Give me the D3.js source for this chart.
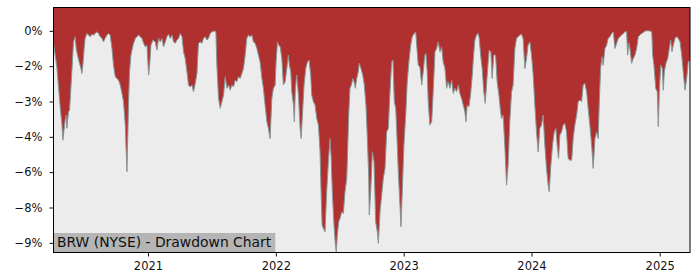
<!DOCTYPE html>
<html>
<head>
<meta charset="utf-8">
<script src="https://cdn.jsdelivr.net/npm/d3@7"></script>
<style>
  html, body { margin: 0; padding: 0; background: #fff; }
  svg { display: block; font-family: "DejaVu Sans", sans-serif; }
</style>
</head>
<body>
<svg id="chart" width="700" height="280"></svg>
<script>
// dates as decimal years, drawdown in percent
const years = [
  2020.263, 2020.289, 2020.302, 2020.315, 2020.328, 2020.336, 2020.354, 2020.362, 2020.367, 2020.380,
  2020.388, 2020.406, 2020.419, 2020.432, 2020.440, 2020.450, 2020.466, 2020.477, 2020.484, 2020.492,
  2020.502, 2020.510, 2020.523, 2020.536, 2020.549, 2020.563, 2020.575, 2020.588, 2020.602, 2020.614,
  2020.627, 2020.641, 2020.653, 2020.666, 2020.680, 2020.692, 2020.705, 2020.719, 2020.731, 2020.745,
  2020.758, 2020.770, 2020.784, 2020.797, 2020.809, 2020.823, 2020.830, 2020.836, 2020.848, 2020.856,
  2020.867, 2020.883, 2020.901, 2020.914, 2020.927, 2020.940, 2020.953, 2020.966, 2020.979, 2020.992,
  2021.005, 2021.013, 2021.023, 2021.039, 2021.057, 2021.070, 2021.083, 2021.096, 2021.109, 2021.122,
  2021.135, 2021.148, 2021.161, 2021.174, 2021.188, 2021.200, 2021.213, 2021.227, 2021.239, 2021.252,
  2021.266, 2021.278, 2021.291, 2021.305, 2021.317, 2021.330, 2021.344, 2021.356, 2021.370, 2021.383,
  2021.395, 2021.409, 2021.422, 2021.434, 2021.448, 2021.461, 2021.473, 2021.487, 2021.500, 2021.520,
  2021.531, 2021.539, 2021.552, 2021.565, 2021.578, 2021.591, 2021.604, 2021.617, 2021.630, 2021.643,
  2021.656, 2021.669, 2021.682, 2021.695, 2021.708, 2021.721, 2021.734, 2021.747, 2021.760, 2021.773,
  2021.786, 2021.799, 2021.813, 2021.825, 2021.838, 2021.852, 2021.864, 2021.877, 2021.891, 2021.903,
  2021.916, 2021.930, 2021.942, 2021.955, 2021.969, 2021.981, 2021.995, 2022.002, 2022.013, 2022.023,
  2022.034, 2022.047, 2022.059, 2022.073, 2022.086, 2022.098, 2022.106, 2022.117, 2022.125, 2022.138,
  2022.145, 2022.153, 2022.164, 2022.177, 2022.190, 2022.198, 2022.208, 2022.221, 2022.234, 2022.247,
  2022.260, 2022.273, 2022.281, 2022.294, 2022.307, 2022.320, 2022.333, 2022.346, 2022.354, 2022.362,
  2022.372, 2022.385, 2022.398, 2022.411, 2022.424, 2022.432, 2022.442, 2022.455, 2022.466, 2022.473,
  2022.481, 2022.492, 2022.502, 2022.516, 2022.528, 2022.541, 2022.555, 2022.563, 2022.570, 2022.580,
  2022.591, 2022.602, 2022.612, 2022.622, 2022.633, 2022.645, 2022.653, 2022.666, 2022.680, 2022.692,
  2022.705, 2022.716, 2022.727, 2022.731, 2022.742, 2022.755, 2022.768, 2022.781, 2022.794, 2022.802,
  2022.815, 2022.828, 2022.841, 2022.854, 2022.867, 2022.880, 2022.893, 2022.906, 2022.916, 2022.927,
  2022.938, 2022.948, 2022.958, 2022.971, 2022.979, 2022.989, 2023.002, 2023.016, 2023.028, 2023.041,
  2023.055, 2023.067, 2023.083, 2023.094, 2023.102, 2023.114, 2023.127, 2023.141, 2023.153, 2023.166,
  2023.174, 2023.184, 2023.192, 2023.205, 2023.219, 2023.231, 2023.245, 2023.258, 2023.270, 2023.284,
  2023.297, 2023.309, 2023.323, 2023.336, 2023.348, 2023.362, 2023.375, 2023.388, 2023.401, 2023.414,
  2023.427, 2023.440, 2023.453, 2023.466, 2023.479, 2023.487, 2023.497, 2023.510, 2023.523, 2023.536,
  2023.547, 2023.557, 2023.570, 2023.583, 2023.591, 2023.602, 2023.614, 2023.627, 2023.638, 2023.648,
  2023.661, 2023.669, 2023.682, 2023.692, 2023.705, 2023.719, 2023.731, 2023.745, 2023.758, 2023.766,
  2023.778, 2023.791, 2023.805, 2023.817, 2023.830, 2023.844, 2023.856, 2023.870, 2023.883, 2023.895,
  2023.909, 2023.922, 2023.934, 2023.948, 2023.961, 2023.973, 2023.987, 2024.000, 2024.013, 2024.026,
  2024.039, 2024.052, 2024.065, 2024.078, 2024.091, 2024.104, 2024.117, 2024.130, 2024.138, 2024.151,
  2024.164, 2024.177, 2024.190, 2024.200, 2024.211, 2024.221, 2024.234, 2024.247, 2024.260, 2024.273,
  2024.286, 2024.299, 2024.313, 2024.325, 2024.338, 2024.352, 2024.364, 2024.377, 2024.391, 2024.403,
  2024.416, 2024.430, 2024.442, 2024.455, 2024.469, 2024.481, 2024.495, 2024.508, 2024.520, 2024.528,
  2024.539, 2024.549, 2024.559, 2024.573, 2024.586, 2024.598, 2024.612, 2024.625, 2024.638, 2024.651,
  2024.664, 2024.677, 2024.690, 2024.703, 2024.716, 2024.729, 2024.742, 2024.750, 2024.760, 2024.768,
  2024.781, 2024.794, 2024.807, 2024.820, 2024.833, 2024.846, 2024.859, 2024.872, 2024.885, 2024.898,
  2024.911, 2024.924, 2024.938, 2024.945, 2024.955, 2024.969, 2024.981, 2024.989, 2024.997, 2025.008,
  2025.020, 2025.028, 2025.036, 2025.049, 2025.063, 2025.075, 2025.086, 2025.096, 2025.106, 2025.120,
  2025.133, 2025.145, 2025.159, 2025.172, 2025.184, 2025.198, 2025.211, 2025.223, 2025.237
]

const drawdown = [
  -0.53, -1.53, -2.38, -3.23, -3.92, -4.64, -3.79, -3.58, -4.14, -3.44,
  -3.37, -1.74, -0.47, -0.25, -0.75, -1.03, -1.38, -1.60, -1.81, -1.46,
  -0.75, -0.32, -0.11, -0.18, -0.25, -0.15, -0.18, -0.11, -0.04, -0.11,
  -0.25, -0.32, -0.47, -0.32, -0.18, -0.11, -0.18, -0.75, -1.46, -1.95,
  -2.02, -2.09, -2.30, -2.66, -3.01, -4.00, -5.14, -5.98, -3.15, -1.74,
  -1.03, -0.61, -0.32, -0.25, -0.18, -0.25, -0.32, -0.53, -0.68, -0.61,
  -1.88, -1.46, -0.61, -0.39, -0.47, -0.82, -0.32, -0.47, -0.32, -0.68,
  -0.47, -0.25, -0.15, -0.32, -0.18, -0.47, -0.53, -0.39, -0.32, -0.11,
  -0.25, -0.89, -1.17, -1.74, -2.30, -2.38, -2.30, -2.59, -2.23, -1.81,
  -0.53, -0.47, -0.53, -0.32, -0.25, -0.39, -0.32, -0.11, -0.04, -0.01,
  -0.04, -1.46, -2.87, -3.29, -3.01, -2.73, -1.95, -2.44, -2.30, -2.52,
  -2.30, -2.38, -2.09, -2.16, -1.95, -2.02, -1.81, -1.60, -1.03, -0.32,
  -0.18, -0.25, -0.18, -0.47, -0.53, -0.75, -1.03, -1.32, -2.02, -2.44,
  -3.15, -3.86, -4.14, -4.57, -2.87, -2.44, -2.30, -1.32, -0.47, -0.61,
  -0.68, -1.17, -2.30, -2.16, -1.60, -1.03, -1.46, -1.74, -2.59, -3.15,
  -3.86, -2.44, -1.88, -2.73, -4.14, -4.57, -3.58, -2.30, -1.60, -1.32,
  -1.24, -1.88, -2.73, -3.01, -3.15, -3.72, -4.00, -5.14, -6.83, -8.25,
  -8.39, -8.53, -6.83, -5.56, -4.57, -5.28, -6.83, -8.25, -9.10, -9.38,
  -8.67, -8.11, -7.96, -7.68, -7.75, -6.83, -6.26, -4.85, -3.58, -2.44,
  -2.30, -2.02, -2.16, -2.44, -2.02, -1.74, -1.38, -1.60, -1.88, -2.30,
  -3.15, -4.57, -6.26, -7.82, -6.83, -5.14, -5.56, -8.11, -8.53, -9.02,
  -7.68, -6.97, -6.26, -5.84, -4.29, -4.14, -2.59, -1.32, -1.24, -3.01,
  -3.29, -4.57, -5.98, -7.40, -8.32, -6.83, -4.85, -3.58, -2.16, -1.32,
  -0.61, -0.25, -0.11, -0.04, -0.61, -1.46, -1.53, -2.30, -1.74, -1.03,
  -0.96, -1.74, -3.01, -4.00, -3.86, -2.59, -0.89, -0.75, -0.47, -0.89,
  -0.68, -1.32, -1.60, -2.44, -2.16, -2.44, -2.09, -2.66, -2.44, -2.59,
  -2.30, -2.66, -2.87, -3.15, -3.44, -3.86, -3.15, -3.23, -2.73, -1.92,
  -1.03, -0.39, -0.18, -0.11, -0.32, -1.03, -1.60, -2.59, -3.08, -2.30,
  -1.32, -0.82, -0.89, -2.02, -1.03, -1.03, -2.16, -2.73, -3.44, -3.72,
  -3.58, -4.85, -6.55, -5.70, -3.86, -2.59, -2.30, -0.75, -0.32, -0.25,
  -0.18, -0.15, -0.32, -1.60, -1.17, -0.61, -0.47, -1.03, -1.88, -3.15,
  -4.29, -5.14, -4.14, -4.00, -3.58, -4.85, -5.84, -6.55, -6.83, -5.70,
  -4.85, -4.29, -4.14, -4.85, -5.42, -4.43, -4.29, -4.00, -3.93, -4.29,
  -5.42, -5.49, -5.49, -4.57, -4.00, -3.58, -3.01, -2.94, -3.01, -2.30,
  -2.23, -2.59, -3.29, -4.00, -4.85, -5.84, -4.57, -4.29, -4.57, -3.15,
  -1.60, -1.10, -1.46, -0.75, -0.61, -0.32, -0.25, -0.11, -0.04, -0.75,
  -0.53, -0.32, -0.25, -0.18, -0.11, -0.04, -0.04, -1.03, -0.53, -0.75,
  -1.38, -1.17, -1.03, -0.75, -0.25, -0.18, -0.11, -0.07, -0.01, 0.00,
  0.00, -0.01, -0.04, -1.03, -1.46, -2.44, -2.59, -4.07, -2.59, -1.46,
  -1.60, -2.52, -1.74, -1.38, -1.17, -0.75, -0.39, -0.89, -0.61, -0.32,
  -0.25, -0.32, -0.47, -1.03, -1.74, -2.52, -2.02, -1.32, -1.24
]

const yLimits = [-9.41, 0.99]
const yTicks = [0, -1.5, -3, -4.5, -6, -7.5, -9]
const yTickLabels = ['0%', '\u22122%', '\u22123%', '\u22124%', '\u22126%', '\u22128%', '\u22129%']
const xTicks = ['2021-01-01', '2022-01-01', '2023-01-01', '2024-01-01', '2025-01-01']
const title = 'BRW (NYSE) - Drawdown Chart'

function yearToDate(y) {
  const yr = Math.floor(y)
  const start = Date.UTC(yr, 0, 1)
  const end = Date.UTC(yr + 1, 0, 1)
  return new Date(start + (y - yr) * (end - start))
}

const data = years.map((y, i) => ({ date: yearToDate(y), value: drawdown[i] }))

const margin = { left: 53.5, right: 10, top: 7.5, bottom: 27.5 }
const width = 700
const height = 280

const svg = d3.select('#chart')

const x = d3
  .scaleUtc()
  .domain(d3.extent(data, (d) => d.date))
  .range([margin.left, width - margin.right])

const y = d3
  .scaleLinear()
  .domain(yLimits)
  .range([height - margin.bottom, margin.top])

// plot background
svg
  .append('rect')
  .attr('x', margin.left)
  .attr('y', margin.top)
  .attr('width', width - margin.left - margin.right)
  .attr('height', height - margin.top - margin.bottom)
  .attr('fill', '#ececec')

// red region from the top of the axes down to the drawdown
const area = d3
  .area()
  .x((d) => x(d.date))
  .y0(y(yLimits[1]))
  .y1((d) => y(d.value))

svg.append('path').datum(data).attr('d', area).attr('fill', '#b03030')

const line = d3
  .line()
  .x((d) => x(d.date))
  .y((d) => y(d.value))

svg
  .append('path')
  .datum(data)
  .attr('d', line)
  .attr('fill', 'none')
  .attr('stroke', '#8a9494')
  .attr('stroke-width', 1)

// title box in the lower left corner
const titleG = svg.append('g')
const titleText = titleG
  .append('text')
  .attr('x', margin.left + 3.5)
  .attr('y', height - margin.bottom - 5.5)
  .attr('font-size', '13.9px')
  .attr('fill', '#111')
  .text(title)
const tb = titleText.node().getBBox()
titleG
  .insert('rect', 'text')
  .attr('x', margin.left)
  .attr('y', tb.y - 1)
  .attr('width', tb.width + 7)
  .attr('height', height - margin.bottom - tb.y + 1)
  .attr('fill', '#b5b5b5')

// axes
const xAxis = d3
  .axisBottom(x)
  .tickValues(xTicks.map((s) => new Date(s + 'T00:00:00Z')))
  .tickFormat(d3.utcFormat('%Y'))
  .tickSize(4)
  .tickPadding(5)

const yAxis = d3
  .axisLeft(y)
  .tickValues(yTicks)
  .tickFormat((d, i) => yTickLabels[i])
  .tickSize(4)
  .tickPadding(7)

const gx = svg
  .append('g')
  .attr('transform', `translate(0,${height - margin.bottom})`)
  .call(xAxis)
const gy = svg.append('g').attr('transform', `translate(${margin.left},0)`).call(yAxis)

for (const g of [gx, gy]) {
  g.select('.domain').remove()
  g.selectAll('text')
    .attr('font-family', '"DejaVu Sans", sans-serif')
    .attr('font-size', '11.5px')
    .attr('fill', '#111')
  g.selectAll('line').attr('stroke', '#111')
}

// frame
svg
  .append('rect')
  .attr('x', margin.left)
  .attr('y', margin.top)
  .attr('width', width - margin.left - margin.right)
  .attr('height', height - margin.top - margin.bottom)
  .attr('fill', 'none')
  .attr('stroke', '#000')
  .attr('stroke-width', 1)
</script>
</body>
</html>
